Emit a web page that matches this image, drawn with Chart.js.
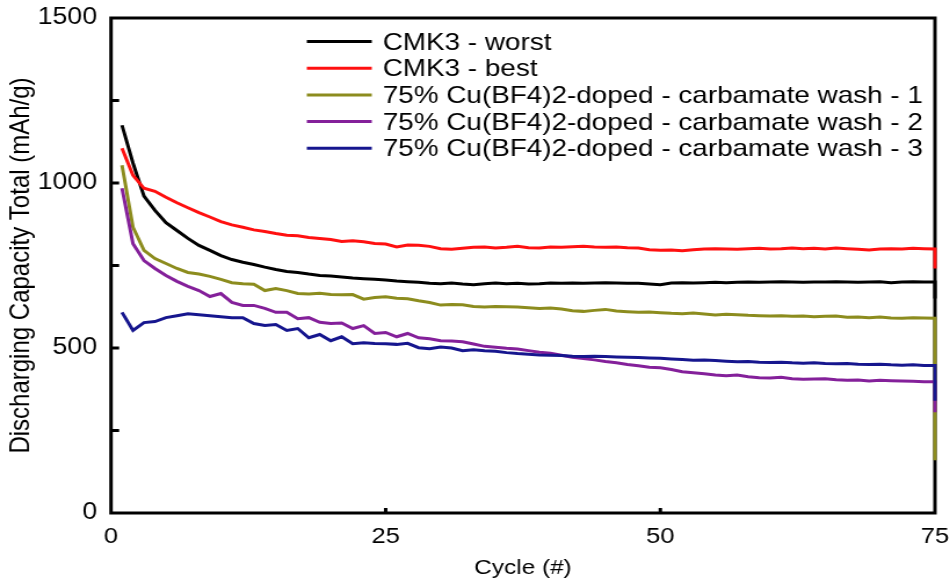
<!DOCTYPE html>
<html>
<head>
<meta charset="utf-8">
<script src="https://cdn.jsdelivr.net/npm/chart.js@4/dist/chart.umd.min.js"></script>
<style>
  html, body { margin: 0; padding: 0; background: #fff; overflow: hidden; }
  #wrap { width: 819px; height: 581px; transform: scaleX(1.16); transform-origin: 0 0; }
</style>
</head>
<body>
<div id="wrap"><canvas id="c" width="819" height="581"></canvas></div>
<script>
// ---- data ----
const cycles = [1,2,3,4,5,6,7,8,9,10,11,12,13,14,15,16,17,18,19,20,21,22,23,24,25,
  26,27,28,29,30,31,32,33,34,35,36,37,38,39,40,41,42,43,44,45,46,47,48,49,50,
  51,52,53,54,55,56,57,58,59,60,61,62,63,64,65,66,67,68,69,70,71,72,73,74,75];

const seriesLabels = [
  "CMK3 - worst",
  "CMK3 - best",
  "75% Cu(BF4)2-doped - carbamate wash - 1",
  "75% Cu(BF4)2-doped - carbamate wash - 2",
  "75% Cu(BF4)2-doped - carbamate wash - 3"
];

const cmk3Worst = [1175,1060,960,917,880,856,832,811,796,780,768,760,753,745,738,732,729,724,720,718,
  715,712,710,708,706,703,701,699,696,695,697,694,692,695,697,695,696,694,695,697,
  696,697,696,697,698,697,696,696,694,692,697,698,697,698,699,698,699,700,699,700,
  701,700,699,700,700,701,700,699,700,701,698,700,701,700,700];

const cmk3Best = [1105,1023,984,975,957,940,925,910,897,883,873,866,858,853,847,842,840,835,832,829,
  823,825,822,817,815,806,812,811,808,801,799,802,805,806,803,805,808,804,803,806,
  805,807,808,806,805,806,804,803,798,796,797,795,798,800,801,800,799,801,802,800,
  801,803,801,802,800,803,801,799,797,800,801,800,802,801,800];

const wash1 = [1054,866,796,771,756,741,729,724,717,708,698,695,693,674,680,674,665,664,666,662,
  661,662,648,653,655,651,649,643,638,630,632,631,626,624,626,625,624,622,620,621,
  618,613,611,614,617,612,610,608,609,607,605,604,606,603,600,602,601,599,598,597,
  598,596,597,595,596,597,593,594,592,594,591,590,592,591,590];

const wash2 = [984,816,765,741,720,702,687,674,656,665,638,629,629,620,608,608,589,592,578,574,
  576,559,568,544,547,534,544,531,528,522,521,519,512,505,502,499,497,492,487,484,
  478,472,468,464,459,455,450,446,442,440,435,428,425,422,418,416,418,413,410,409,
  411,407,405,406,407,404,402,403,400,402,401,400,399,398,398];

const wash3 = [608,553,577,580,592,598,604,601,598,595,592,592,574,568,571,553,559,531,541,522,
  534,513,516,514,513,511,514,501,498,503,500,492,495,492,490,486,483,481,479,478,
  477,475,474,475,474,473,472,471,470,469,467,465,463,464,462,460,458,459,457,456,
  457,455,454,455,453,452,453,451,450,451,449,448,449,447,447];

// final partial-cycle value recorded at the last cycle (vertical drop at the right edge)
const finalDrop = [650, 741, 160, 305, 340];

const yTicks = [0, 500, 1000, 1500];
const yMinorTicks = [250, 500, 750, 1000, 1250];
const xTicks = [0, 25, 50, 75];
const xInnerTicks = [25, 50];

const colors = ["#000000", "#ff1010", "#8c8c1e", "#84209a", "#16168e"];

// ---- build ----
const allSeries = [cmk3Worst, cmk3Best, wash1, wash2, wash3];
const lastCycle = cycles[cycles.length - 1];
const datasets = allSeries.map((vals, k) => {
  const pts = vals.map((v, i) => ({ x: cycles[i], y: v }));
  pts.push({ x: lastCycle, y: finalDrop[k] });
  return {
    label: seriesLabels[k],
    data: pts,
    borderColor: colors[k],
    backgroundColor: colors[k],
    borderWidth: 3,
    pointRadius: 0,
    tension: 0,
    fill: false,
    clip: 6,
    order: 5 - k
  };
});

const FONT = "'Liberation Sans', Arial, Helvetica, sans-serif";
Chart.defaults.font.family = FONT;
Chart.defaults.color = "#000";

const framePlugin = {
  id: 'frame',
  beforeDatasetsDraw(chart) {
    const { ctx, chartArea: a, scales } = chart;
    ctx.save();
    ctx.strokeStyle = '#000';
    ctx.lineWidth = 3;
    ctx.lineCap = 'square';
    ctx.strokeRect(a.left, a.top, a.right - a.left, a.bottom - a.top);
    ctx.lineCap = 'butt';
    yMinorTicks.forEach(v => {
      const py = scales.y.getPixelForValue(v);
      ctx.beginPath(); ctx.moveTo(a.left, py); ctx.lineTo(a.left + 7, py); ctx.stroke();
    });
    xInnerTicks.forEach(v => {
      const px = scales.x.getPixelForValue(v);
      ctx.beginPath(); ctx.moveTo(px, a.bottom); ctx.lineTo(px, a.bottom - 5); ctx.stroke();
    });
    ctx.restore();
  },
  afterDraw(chart) {
    const { ctx, chartArea: a } = chart;
    ctx.save();
    const lx0 = 264.5, lx1 = 320.5, tx = 330;
    const y0 = a.top + 23.5, dy = 26.7;
    ctx.font = "24px " + FONT;
    ctx.textBaseline = 'middle';
    ctx.textAlign = 'left';
    chart.data.datasets.forEach((ds, i) => {
      const yy = y0 + i * dy;
      ctx.strokeStyle = ds.borderColor;
      ctx.lineWidth = 3;
      ctx.beginPath(); ctx.moveTo(lx0, yy); ctx.lineTo(lx1, yy); ctx.stroke();
      ctx.fillStyle = '#000';
      ctx.fillText(ds.label, tx, yy + 1.5);
    });
    ctx.restore();
  }
};

new Chart(document.getElementById('c'), {
  type: 'line',
  data: { datasets },
  options: {
    responsive: false,
    animation: false,
    devicePixelRatio: 1,
    layout: { padding: { left: 0, top: 18, right: 13, bottom: 0 } },
    plugins: { legend: { display: false }, tooltip: { enabled: false } },
    scales: {
      x: {
        type: 'linear',
        min: 0, max: 75,
        afterBuildTicks: (s) => { s.ticks = xTicks.map(v => ({ value: v })); },
        ticks: { font: { size: 22 }, padding: 11, maxRotation: 0, autoSkip: false, callback: (v) => String(v) },
        grid: { display: false, drawTicks: false },
        border: { display: false },
        title: { display: true, text: 'Cycle (#)', font: { size: 21 }, padding: { top: 0, bottom: 0 } },
        afterFit: (s) => { s.height = 68; s.paddingLeft = 0; s.paddingRight = 0; }
      },
      y: {
        type: 'linear',
        min: 0, max: 1500,
        afterBuildTicks: (s) => { s.ticks = yTicks.map(v => ({ value: v })); },
        ticks: { font: { size: 23 }, padding: 12, callback: (v) => String(v) },
        grid: { display: false, drawTicks: false },
        border: { display: false },
        title: { display: true, text: 'Discharging Capacity Total (mAh/g)', font: { size: 24 }, padding: { top: 4, bottom: 0 } },
        afterFit: (s) => { s.width = 95.7; s.paddingTop = 0; s.paddingBottom = 0; }
      }
    }
  },
  plugins: [framePlugin]
});
</script>
</body>
</html>
